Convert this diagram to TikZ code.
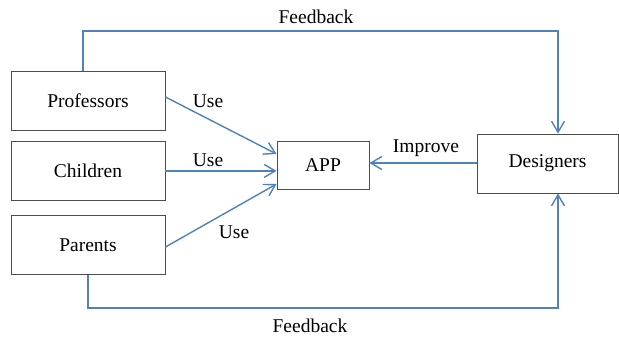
\documentclass[tikz,border=0pt]{standalone}
\usepackage{fontspec}
\setmainfont{Liberation Serif}
\usetikzlibrary{arrows.meta,positioning}
\definecolor{flowblue}{RGB}{79,129,189}

\begin{document}
\begin{tikzpicture}[
  x=1pt, y=-1pt,
  box/.style={draw=black!70, line width=0.9pt, inner sep=0pt,
    minimum width=154pt, minimum height=59pt,
    font=\fontsize{19.5}{23}\selectfont},
  flow/.style={draw=flowblue, line width=1.4pt,
    -{Straight Barb[length=11pt,width=13pt]}},
  lbl/.style={font=\fontsize{19.5}{23}\selectfont, inner sep=0pt},
]
\useasboundingbox (0,0) rectangle (619,338);
% users on the left
\node[box] (prof) at (88,100.5) {Professors};
\node[box, below=10.5pt of prof] (child) {Children};
\node[box, below=14.5pt of child] (parent) {Parents};
% app and designers
\node[box, minimum width=92pt, minimum height=48pt] (app) at (323,165) {APP};
\node[box, minimum width=141pt] (design) at (547.5,163.5) {Designers};
% use arrows
\draw[flow] (prof.east |- 0,97) -- (app.west |- 0,154);
\draw[flow] (child.east) -- (app.west |- child.east);
\draw[flow] (parent.east |- 0,247) -- (app.west |- 0,184);
\node[lbl] (use1) at (208,101) {Use};
\node[lbl] (use2) at (208,160) {Use};
\node[lbl] (use3) at (234,232) {Use};
% improve
\draw[flow] (design.west |- 0,163) -- (app.east |- 0,163);
\node[lbl] (impr) at (426,148) {Improve};
% feedback loops
\coordinate (fbtop) at (558,31);
\coordinate (fbbot) at (558,308);
\draw[flow] (prof.north -| 83,0) |- (fbtop) -- (design.north -| fbtop);
\draw[flow] (parent.south) |- (fbbot) -- (design.south -| fbbot);
\node[lbl] (fb1) at (316,17) {Feedback};
\node[lbl] (fb2) at (310,326) {Feedback};
\end{tikzpicture}
\end{document}
